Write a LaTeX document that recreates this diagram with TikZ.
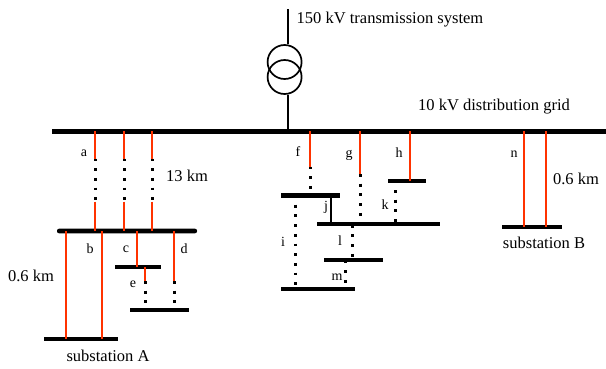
\documentclass[tikz,border=0pt]{standalone}
\usepackage{fontspec}
\setmainfont{Liberation Serif}
\usetikzlibrary{positioning, calc}
\definecolor{feederred}{RGB}{255,51,0}

\begin{document}
\begin{tikzpicture}[
    x=1pt, y=-1pt,
    font=\fontsize{16.5}{18}\selectfont,
    bus_common/.style={fill=black, inner sep=0pt, minimum height=4.6pt},
    bus_main/.style={bus_common, minimum height=5pt, minimum width=554pt},
    feeder/.style={line width=2.2pt, draw=feederred},
    cable/.style={line width=2.8pt, draw=black, dash pattern=on 2.8pt off 6.9pt},
    link/.style={line width=2pt, draw=black},
    winding/.style={draw=black, line width=1.7pt, circle, minimum size=34pt, inner sep=0pt},
    tag/.style={font=\fontsize{14}{16}\selectfont, inner sep=0pt}
]
\useasboundingbox (0,0) rectangle (606,368);

% Transformer
\node[winding] (upper) at (284.6,62) {};
\node[winding] (lower) at (284.6,77) {};
\coordinate (hv) at (288.3,9);

% Buses
\node[bus_main] (grid) at (329,131) {};
\node[bus_common, minimum width=140pt, rounded corners=2pt] (busA) at (127,231) {};
\node[bus_common, minimum width=74pt] (subA) at (81,339) {};
\node[bus_common, minimum width=46pt] (busC) at (138,267) {};
\node[bus_common, minimum width=59pt] (busD) at (159.5,310) {};
\node[bus_common, minimum width=59pt] (busF) at (310.5,195.5) {};
\node[bus_common, minimum width=38pt] (busH) at (407,181) {};
\node[bus_common, minimum width=123pt] (busJ) at (378.5,224) {};
\node[bus_common, minimum width=74pt] (busI) at (318,289) {};
\node[bus_common, minimum width=59pt] (busL) at (353.5,260) {};
\node[bus_common, minimum width=60pt] (subB) at (532,227) {};

% Points where the lines change
\coordinate (a1) at (95.25,158.5);
\coordinate (a2) at (95.25,201.5);
\coordinate (a3) at (124.25,158.5);
\coordinate (a4) at (124.25,201.5);
\coordinate (a5) at (152.25,158.5);
\coordinate (a6) at (152.25,201.5);
\coordinate (b1) at (66.25,231);
\coordinate (b2) at (102.25,231);
\coordinate (c1) at (137.25,231);
\coordinate (e1) at (145.25,281);
\coordinate (d1) at (174.25,281);
\coordinate (f1) at (310.25,166.5);
\coordinate (g1) at (360.25,174);
\coordinate (h1) at (410.25,131);
\coordinate (i1) at (295.25,204.7);
\coordinate (j1) at (331,195);
\coordinate (k1) at (395.25,190);
\coordinate (l1) at (352.25,224.7);
\coordinate (m1) at (345.25,260.5);
\coordinate (n1) at (524.25,131);
\coordinate (n2) at (545.75,131);

% Transformer leads
\draw[link] (hv) -- (hv |- upper.north);
\draw[link] (hv |- lower.south) -- (hv |- grid);

% Substation A side
\draw[feeder] (a1 |- grid) -- (a1);
\draw[cable] (a1) -- (a2);
\draw[feeder] (a2) -- (a2 |- busA);
\draw[feeder] (a3 |- grid) -- (a3);
\draw[cable] (a3) -- (a4);
\draw[feeder] (a4) -- (a4 |- busA);
\draw[feeder] (a5 |- grid) -- (a5);
\draw[cable] (a5) -- (a6);
\draw[feeder] (a6) -- (a6 |- busA);

\draw[feeder] (b1) -- (b1 |- subA);
\draw[feeder] (b2) -- (b2 |- subA);
\draw[feeder] (c1) -- (c1 |- busC);
\draw[feeder] (e1 |- busC) -- (e1);
\draw[cable] (e1) -- (e1 |- busD);
\draw[feeder] (d1 |- busA) -- (d1);
\draw[cable] (d1) -- (d1 |- busD);

% Middle group
\draw[feeder] (f1 |- grid) -- (f1);
\draw[cable] (f1) -- (f1 |- busF);
\draw[feeder] (g1 |- grid) -- (g1);
\draw[cable] (g1) -- (g1 |- busJ);
\draw[feeder] (h1) -- (h1 |- busH);
\draw[cable] (i1) -- (i1 |- busI);
\draw[link] (j1) -- (j1 |- busJ);
\draw[cable] (k1) -- (k1 |- busJ);
\draw[cable] (l1) -- (l1 |- busL);
\draw[cable] (m1) -- (m1 |- busI);

% Substation B side
\draw[feeder] (n1) -- (n1 |- subB);
\draw[feeder] (n2) -- (n2 |- subB);

% Texts
\node[inner sep=0pt] (hvtext) at (390,20) {150 kV transmission system};
\node[inner sep=0pt] (gridtext) at (494,107) {10 kV distribution grid};
\node[inner sep=0pt] (lenA) at (187,176) {13 km};
\node[inner sep=0pt] (lenB) at (31,276) {0.6 km};
\node[inner sep=0pt] (lenC) at (576,179) {0.6 km};
\node[inner sep=0pt] (nameA) at (108,356) {substation A};
\node[inner sep=0pt] (nameB) at (544,243) {substation B};

\node[tag] (ta) at (84,153) {a};
\node[tag] (tb) at (90,249) {b};
\node[tag] (tc) at (126,249) {c};
\node[tag] (td) at (184,249) {d};
\node[tag] (te) at (133,284) {e};
\node[tag] (tf) at (298,152) {f};
\node[tag] (tg) at (349,155) {g};
\node[tag] (th) at (399,153) {h};
\node[tag] (ti) at (283,242) {i};
\node[tag] (tj) at (326,207) {j};
\node[tag] (tk) at (385,205) {k};
\node[tag] (tl) at (340,241) {l};
\node[tag] (tm) at (337,277) {m};
\node[tag] (tn) at (514,154) {n};

\end{tikzpicture}
\end{document}
